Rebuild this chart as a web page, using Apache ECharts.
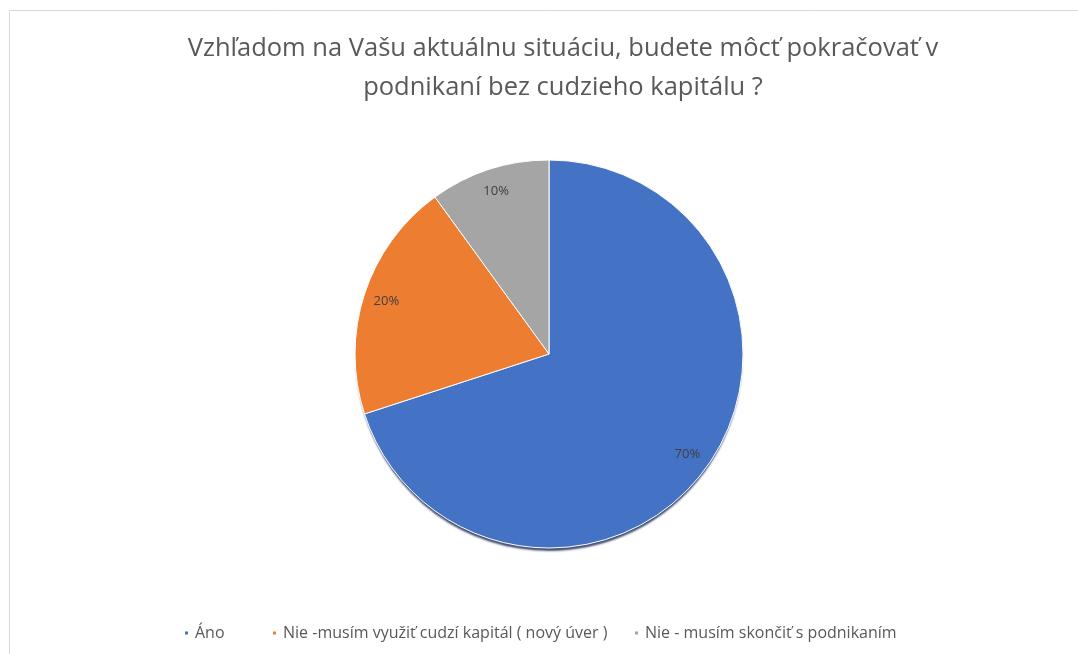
<!DOCTYPE html>
<html>
<head>
<meta charset="utf-8">
<script src="https://cdn.jsdelivr.net/npm/echarts@6/dist/echarts.min.js"></script>
<style>
  html, body { margin: 0; padding: 0; background: #fff; }
  #chart { width: 1078px; height: 654px; }
</style>
</head>
<body>
<div id="chart"></div>
<script>
// Survey answers and their shares (percent)
const categories = [
  'Áno',
  'Nie -musím využiť cudzí kapitál ( nový úver )',
  'Nie - musím skončiť s podnikaním'
];
const shares = [70, 20, 10];
const colors = ['#4472C4', '#ED7D31', '#A5A5A5'];
const titleText = 'Vzhľadom na Vašu aktuálnu situáciu, budete môcť pokračovať v\npodnikaní bez cudzieho kapitálu ?';

// left edge of each legend entry (px)
const legendLefts = [183, 271, 633];

const FONT = '"Open Sans", "Noto Sans", sans-serif';
const CENTER = [549, 354];
const R = 194;

const pieData = categories.map((name, i) => ({
  name, value: shares[i], itemStyle: { color: colors[i] }
}));

const legends = categories.map((name, i) => ({
  bottom: 13,
  left: legendLefts[i],
  padding: 0,
  icon: 'rect',
  itemWidth: 5,
  itemHeight: 5,
  selectedMode: false,
  data: [name],
  textStyle: { fontFamily: FONT, fontSize: 16, color: '#595959', padding: [0, 0, 0, 1] }
}));

const chart = echarts.init(document.getElementById('chart'), null, { renderer: 'canvas' });
chart.setOption({
  animation: false,
  backgroundColor: '#ffffff',
  title: {
    text: titleText,
    left: 558,
    textAlign: 'center',
    top: 24,
    textStyle: {
      fontFamily: FONT, fontSize: 25.5, fontWeight: 'normal',
      color: '#595959', lineHeight: 39
    }
  },
  legend: legends,
  graphic: [{
    type: 'rect',
    silent: true,
    shape: { x: 9.5, y: 10.5, width: 1100, height: 700 },
    style: { fill: 'none', stroke: '#d9d9d9', lineWidth: 1 }
  }],
  series: [
    {
      // drop shadow underneath the pie
      type: 'pie',
      name: 'shadow',
      z: 1,
      center: CENTER,
      radius: [0, R - 1],
      startAngle: 90,
      clockwise: true,
      silent: true,
      legendHoverLink: false,
      label: { show: false },
      labelLine: { show: false },
      emphasis: { disabled: true },
      itemStyle: {
        color: '#1f3864', borderWidth: 0,
        shadowColor: 'rgba(20,35,80,0.8)', shadowBlur: 2,
        shadowOffsetX: 0, shadowOffsetY: 4
      },
      data: categories.map((n, i) => ({ name: '_' + i, value: shares[i] }))
    },
    {
      // slices
      type: 'pie',
      z: 2,
      center: CENTER,
      radius: [0, R],
      startAngle: 90,
      clockwise: true,
      label: { show: false },
      labelLine: { show: false },
      emphasis: { disabled: true },
      itemStyle: { borderColor: '#ffffff', borderWidth: 1 },
      data: pieData
    },
    {
      // percent labels placed near the rim
      type: 'pie',
      z: 3,
      center: CENTER,
      radius: [146, 190],
      startAngle: 90,
      clockwise: true,
      silent: true,
      emphasis: { disabled: true },
      itemStyle: { color: 'rgba(0,0,0,0)', borderWidth: 0 },
      labelLine: { show: false },
      label: {
        show: true, position: 'inside',
        formatter: p => p.value + '%',
        fontFamily: FONT, fontSize: 13, color: '#404040'
      },
      data: categories.map((name, i) => ({ name, value: shares[i] }))
    }
  ]
});
</script>
</body>
</html>
